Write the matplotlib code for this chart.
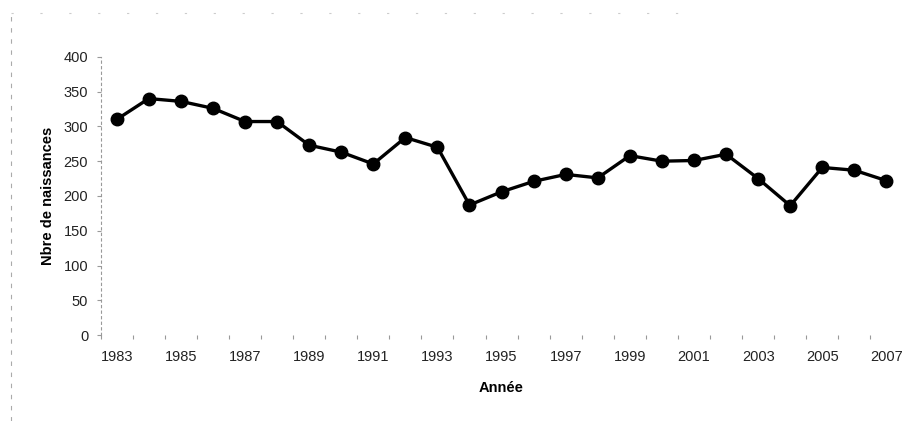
import matplotlib.pyplot as plt
from matplotlib.lines import Line2D

# Données : naissances par année
annees = list(range(1983, 2008))
naissances = [310, 340, 336, 326, 307, 307, 273, 263, 246, 284, 270, 187,
              206, 221, 231, 226, 258, 250, 251, 260, 225, 186, 241, 237, 222]
etiquettes = [str(a) for a in range(1983, 2008, 2)]

plt.rcParams["font.family"] = ["Liberation Sans", "DejaVu Sans"]

fig = plt.figure(figsize=(9.07, 4.21), dpi=100)
ax = fig.add_axes([0.111, 0.204, 0.884, 0.661])

ax.plot(annees, naissances, color="black", linewidth=2.4,
        marker="o", markersize=9, markerfacecolor="black")

ax.set_xlim(1982.5, 2007.5)
ax.set_ylim(0, 400)
ax.set_yticks(range(0, 401, 50))
ax.set_xticks(range(1983, 2008, 2))
ax.set_xticklabels(etiquettes)
ax.set_xticks([a + 0.5 for a in range(1982, 2007)], minor=True)

ax.tick_params(axis="both", labelsize=10.5, colors="#222222")
ax.tick_params(axis="x", which="major", length=0, pad=11)
ax.tick_params(axis="x", which="minor", length=3, color="#999999", width=0.8)
ax.tick_params(axis="y", length=3, color="#999999", width=0.8, pad=6)

for side in ["top", "right", "bottom"]:
    ax.spines[side].set_visible(False)
ax.spines["left"].set_linestyle((0, (2, 3)))
ax.spines["left"].set_color("#999999")

ax.set_xlabel("Année", fontsize=10.5, fontweight="bold", labelpad=12)
ax.set_ylabel("Nbre de naissances", fontsize=10.5, fontweight="bold", labelpad=6)

# cadre pointillé du document scanné
fig.add_artist(Line2D([0.012, 0.012], [0.0, 0.97], transform=fig.transFigure,
                      color="#aaaaaa", linewidth=0.8, linestyle=(0, (4, 6))))
fig.add_artist(Line2D([0.012, 0.75], [0.97, 0.97], transform=fig.transFigure,
                      color="#cccccc", linewidth=0.8, linestyle=(0, (2, 24))))

fig.savefig("out.png", dpi=100)
